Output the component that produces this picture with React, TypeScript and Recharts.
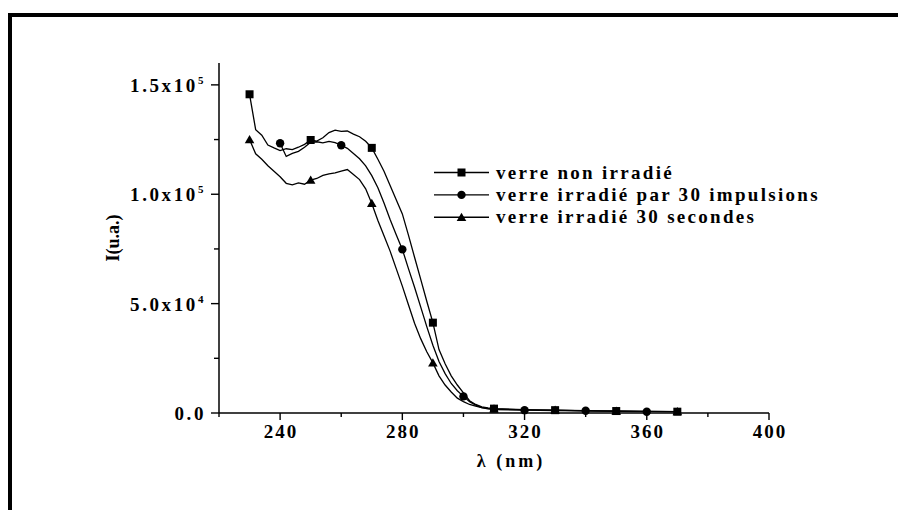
import React from "react";
import { LineChart, Line, XAxis, YAxis, Legend } from "recharts";

// wavelength grid (nm)
const LAMBDA = [
  230, 232, 234, 236, 238, 240, 242, 244, 246, 248, 250, 252, 254, 256, 258, 260,
  262, 264, 266, 268, 270, 272, 274, 276, 278, 280, 282, 284, 286, 288, 290, 292,
  294, 296, 298, 300, 302, 304, 306, 308, 310, 320, 330, 340, 350, 360, 370,
];

// verre non irradié
const NON_IRRADIE = [
  145700, 129500, 127000, 122500, 121200, 120000, 120800, 120400, 121500, 122800,
  124800, 124300, 125800, 128200, 129300, 128700, 128900, 127500, 126300, 124200,
  121200, 116000, 110500, 104000, 97500, 91000, 81300, 71200, 61200, 51100, 41300,
  29000, 22500, 17000, 12800, 9200, 5600, 3900, 2800, 2300, 2000, 1500, 1300, 1100,
  900, 700, 600,
];

// verre irradié par 30 impulsions
const IMPULSIONS = [
  null, null, null, null, null, 123300, 117300, 118700, 119600, 121500, 123800,
  124000, 123500, 124200, 123600, 122400, 121000, 118600, 116200, 113000, 108500,
  103000, 96000, 88500, 81500, 74800, 66000, 57500, 48500, 39500, 31000, 23500,
  18000, 13500, 10200, 7600, 5200, 3600, 2500, 1900, 1600, 1300, 1100, 1000, 800,
  600, null,
];

// verre irradié 30 secondes
const SECONDES = [
  125000, 118500, 116000, 113000, 110500, 108000, 105000, 104300, 105200, 104600,
  106500, 107200, 108600, 109300, 109800, 110600, 111300, 109000, 106700, 102500,
  95800, 88000, 81000, 74000, 66000, 58000, 49500, 41000, 34000, 28000, 22900,
  17000, 12800, 9600, 6800, 5200, 3900, 3100, 2500, 2100, 1900, 1400, 1300, 1000,
  900, 700, 600,
];

const SQUARE_AT = [230, 250, 270, 290, 310, 330, 350, 370];
const CIRCLE_AT = [240, 260, 280, 300, 320, 340, 360];
const TRIANGLE_AT = [230, 250, 270, 290, 310, 330, 350, 370];

const X_TICKS = [220, 240, 260, 280, 300, 320, 340, 360, 380, 400];
const Y_TICKS = [0, 25000, 50000, 75000, 100000, 125000, 150000];

const SERIES_NAMES = [
  "verre non irradié",
  "verre irradié par 30 impulsions",
  "verre irradié 30 secondes",
];

const data = LAMBDA.map((l, i) => ({
  l,
  a: NON_IRRADIE[i],
  b: IMPULSIONS[i],
  c: SECONDES[i],
}));

const FONT = "'Liberation Serif', 'Times New Roman', serif";

function Marker({ shape, cx, cy }: { shape: string; cx: number; cy: number }) {
  if (shape === "square")
    return <rect x={cx - 4} y={cy - 4} width={8} height={8} fill="#000" />;
  if (shape === "circle") return <circle cx={cx} cy={cy} r={4.2} fill="#000" />;
  return (
    <polygon
      points={`${cx - 4.8},${cy + 3.6} ${cx + 4.8},${cy + 3.6} ${cx},${cy - 4.6}`}
      fill="#000"
    />
  );
}

const makeDot = (shape: string, at: number[]) => (props: any) => {
  const { cx, cy, payload, index } = props;
  if (cy == null || !at.includes(payload.l)) return <g key={index} />;
  return (
    <g key={index}>
      <Marker shape={shape} cx={cx} cy={cy} />
    </g>
  );
};

const XTick = ({ x, y, payload }: any) => {
  const v = payload.value;
  const major = (v - 240) % 40 === 0;
  return (
    <g>
      <line x1={x} x2={x} y1={y} y2={y + (major ? 7 : 4)} stroke="#000" strokeWidth={1.4} />
      {major && (
        <text
          x={x + 1}
          y={y + 25}
          textAnchor="middle"
          fontFamily={FONT}
          fontWeight="bold"
          fontSize={19}
          letterSpacing={2}
          fill="#000"
        >
          {v}
        </text>
      )}
    </g>
  );
};

const YTick = ({ x, y, payload }: any) => {
  const v = payload.value;
  const major = v % 50000 === 0;
  let label: React.ReactNode = null;
  if (major) {
    if (v === 0) {
      label = "0.0";
    } else {
      const exp = Math.floor(Math.log10(v));
      const mant = (v / Math.pow(10, exp)).toFixed(1);
      label = (
        <>
          {`${mant}x10`}
          <tspan dy={-8} fontSize={11}>
            {exp}
          </tspan>
        </>
      );
    }
  }
  return (
    <g>
      <line x1={x} x2={x - (major ? 8 : 5)} y1={y} y2={y} stroke="#000" strokeWidth={1.4} />
      {major && (
        <text
          x={x - 13}
          y={y + 7}
          textAnchor="end"
          fontFamily={FONT}
          fontWeight="bold"
          fontSize={19}
          letterSpacing={2.6}
          fill="#000"
        >
          {label}
        </text>
      )}
    </g>
  );
};

const LegendBox = () => {
  const shapes = ["square", "circle", "triangle"];
  return (
    <svg width={420} height={72} style={{ display: "block" }}>
      {SERIES_NAMES.map((name, i) => {
        const y = 12.5 + i * 22.4;
        return (
          <g key={name}>
            <line x1={4} x2={59} y1={y} y2={y} stroke="#000" strokeWidth={1.4} />
            <Marker shape={shapes[i]} cx={31.5} cy={y} />
            <text
              x={66}
              y={y + 6}
              fontFamily={FONT}
              fontWeight="bold"
              fontSize={19}
              letterSpacing={2.3}
              fill="#000"
            >
              {name}
            </text>
          </g>
        );
      })}
    </svg>
  );
};

export default function App() {
  return (
    <div
      style={{
        position: "absolute",
        left: 0,
        top: 0,
        width: 898,
        height: 510,
        background: "#fff",
      }}
    >
      {/* frame: top and left rules only */}
      <div
        style={{
          position: "absolute",
          left: 8,
          top: 13,
          width: 890,
          height: 4,
          background: "#000",
        }}
      />
      <div
        style={{
          position: "absolute",
          left: 8,
          top: 13,
          width: 4,
          height: 497,
          background: "#000",
        }}
      />
      <LineChart
        width={898}
        height={510}
        data={data}
        margin={{ top: 63, right: 129, bottom: 0, left: 0 }}
      >
        <XAxis
          dataKey="l"
          type="number"
          domain={[220, 400]}
          ticks={X_TICKS}
          interval={0}
          height={97}
          tickSize={0}
          tickMargin={0}
          tickLine={false}
          tick={<XTick />}
          axisLine={{ stroke: "#000", strokeWidth: 1.5 }}
          label={{
            content: ({ viewBox }: any) => (
              <text
                x={viewBox.x + viewBox.width / 2 + 17}
                y={viewBox.y + 54}
                textAnchor="middle"
                fontFamily={FONT}
                fontWeight="bold"
                fontSize={18}
                letterSpacing={3}
                fill="#000"
              >
                λ (nm)
              </text>
            ),
          }}
        />
        <YAxis
          type="number"
          domain={[0, 160000]}
          ticks={Y_TICKS}
          interval={0}
          width={219}
          tickSize={0}
          tickMargin={0}
          tickLine={false}
          tick={<YTick />}
          axisLine={{ stroke: "#000", strokeWidth: 1.5 }}
          label={{
            content: ({ viewBox }: any) => {
              const cx = 113;
              const cy = viewBox.y + viewBox.height / 2;
              return (
                <text
                  x={cx}
                  y={cy}
                  transform={`rotate(-90, ${cx}, ${cy})`}
                  textAnchor="middle"
                  dominantBaseline="central"
                  fontFamily={FONT}
                  fontWeight="bold"
                  fontSize={18}
                  fill="#000"
                >
                  I(u.a.)
                </text>
              );
            },
          }}
        />
        <Legend
          layout="horizontal"
          verticalAlign="middle"
          align="center"
          content={() => <LegendBox />}
          wrapperStyle={{ position: "absolute", left: 430, top: 160, width: 420 }}
        />
        <Line
          dataKey="a"
          name={SERIES_NAMES[0]}
          type="linear"
          stroke="#000"
          strokeWidth={1.3}
          dot={makeDot("square", SQUARE_AT)}
          activeDot={false}
          isAnimationActive={false}
        />
        <Line
          dataKey="b"
          name={SERIES_NAMES[1]}
          type="linear"
          stroke="#000"
          strokeWidth={1.3}
          dot={makeDot("circle", CIRCLE_AT)}
          activeDot={false}
          isAnimationActive={false}
        />
        <Line
          dataKey="c"
          name={SERIES_NAMES[2]}
          type="linear"
          stroke="#000"
          strokeWidth={1.3}
          dot={makeDot("triangle", TRIANGLE_AT)}
          activeDot={false}
          isAnimationActive={false}
        />
      </LineChart>
    </div>
  );
}
